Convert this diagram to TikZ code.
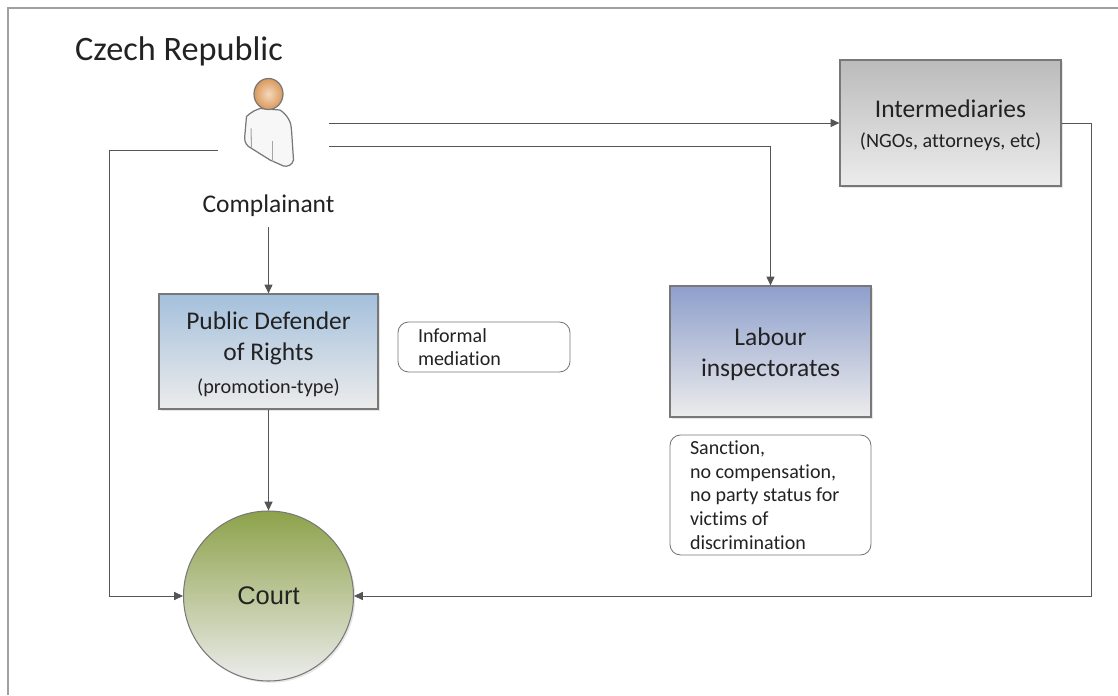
\documentclass[tikz,border=0pt]{standalone}
\usepackage{fontspec}
\setmainfont{Carlito}[Ligatures=NoCommon]
\newfontfamily\courtfont{Liberation Sans}
\usetikzlibrary{arrows.meta,shadows}
\newcommand{\toppad}{\rule{0pt}{13.2pt}}
\definecolor{linegray}{HTML}{555555}
\definecolor{boxedge}{HTML}{787878}
\definecolor{framegray}{HTML}{A0A0A0}
\definecolor{textdark}{HTML}{222222}
\definecolor{fadegray}{HTML}{ECECEC}
\definecolor{intertop}{HTML}{BBBBBB}
\definecolor{defendertop}{HTML}{A4C0DC}
\definecolor{labourtop}{HTML}{8E9FCC}
\definecolor{courttop}{HTML}{8DA24A}
\definecolor{headin}{HTML}{F6D8BC}
\definecolor{headout}{HTML}{D9995C}
\tikzset{
  flow/.style={draw=linegray, line width=0.5pt, -{Triangle[length=5pt,width=4.6pt]}},
  body/.style={draw=boxedge, line width=0.7pt, align=center, text=textdark, inner sep=0pt,
    font=\fontsize{14.5}{17.6}\selectfont,
    drop shadow={shadow xshift=1pt, shadow yshift=-1pt, opacity=0.2}},
  note/.style={draw=boxedge, line width=0.5pt, rounded corners=6pt, align=left, text=textdark,
    inner sep=0pt, font=\fontsize{11.4}{13.5}\selectfont}
}
\begin{document}
\begin{tikzpicture}
  \useasboundingbox (0,0) rectangle (22.36,13.9);
  \draw[framegray, line width=1.2pt] (0.16,0) -- (0.16,13.74) -- (22.36,13.74);

  \node[text=textdark, anchor=west, font=\fontsize{19.5}{22}\selectfont] (title) at (1.38,12.87) {Czech Republic};

  % complainant figure
  \draw[boxedge, line width=0.7pt, fill=gray!6]
    (4.93,11.57) .. controls (5.05,11.68) and (5.12,11.7) .. (5.2,11.73)
    -- (5.6,11.7) .. controls (5.75,11.6) and (5.83,11.45) .. (5.83,11.3)
    -- (5.87,10.7) .. controls (5.85,10.6) and (5.75,10.56) .. (5.67,10.58)
    -- (5.4,10.7) -- (4.97,10.97) .. controls (4.9,11.03) and (4.88,11.1) .. (4.9,11.23) -- cycle;
  \draw[gray!70, line width=0.6pt] (5.02,11.33) -- (5.03,10.95);
  \draw[gray!70, line width=0.6pt] (5.45,11.07) -- (5.45,10.67);
  \shade[inner color=headin, outer color=headout, draw=boxedge, line width=0.7pt] (5.37,12.02) ellipse (0.29 and 0.31);
  \coordinate (personA) at (6.58,11.44);
  \coordinate (personB) at (6.58,10.98);
  \coordinate (personC) at (4.36,10.9);
  \node[text=textdark, font=\fontsize{14.5}{17}\selectfont, minimum height=0.82cm, inner sep=0pt] (complainant) at (5.37,9.78) {Complainant};

  \node[body, minimum width=4.42cm, minimum height=2.52cm, top color=intertop, bottom color=fadegray] (inter) at (19.01,11.44)
    {\toppad Intermediaries\\[-0.5pt]{\fontsize{11.5}{14}\selectfont (NGOs, attorneys, etc)}};
  \node[body, minimum width=4.38cm, minimum height=2.30cm, top color=defendertop, bottom color=fadegray] (defender) at (5.37,6.87)
    {\toppad Public Defender\\of Rights\\[1.2pt]{\fontsize{11.5}{14}\selectfont (promotion-type)}};
  \node[body, minimum width=4.02cm, minimum height=2.62cm, top color=labourtop, bottom color=fadegray] (labour) at (15.41,6.87)
    {\toppad Labour\\inspectorates};
  \node[body, circle, minimum size=3.40cm, top color=courttop, bottom color=fadegray, line width=0.6pt, font=\courtfont\fontsize{14.5}{17}\selectfont] (court) at (5.37,1.98) {Court};

  \node[note, minimum width=3.44cm, minimum height=1.0cm] (mediation) at (9.68,6.96)
    {\hspace*{0.38cm}\parbox{3.02cm}{Informal\\mediation}};
  \node[note, minimum width=4.02cm, minimum height=2.40cm] (sanction) at (15.41,4.0)
    {\hspace*{0.38cm}\parbox{3.6cm}{Sanction,\\no compensation,\\no party status for\\victims of\\discrimination}};

  \draw[flow] (personA) -- (personA -| inter.west);
  \draw[flow] (personB) -| (labour);
  \draw[flow] (personC) -- (2.18,10.9) |- (court);
  \draw[flow] (complainant) -- (defender);
  \draw[flow] (defender) -- (court);
  \draw[flow] (inter.east) -- (21.82,11.44) |- (court);
\end{tikzpicture}
\end{document}
